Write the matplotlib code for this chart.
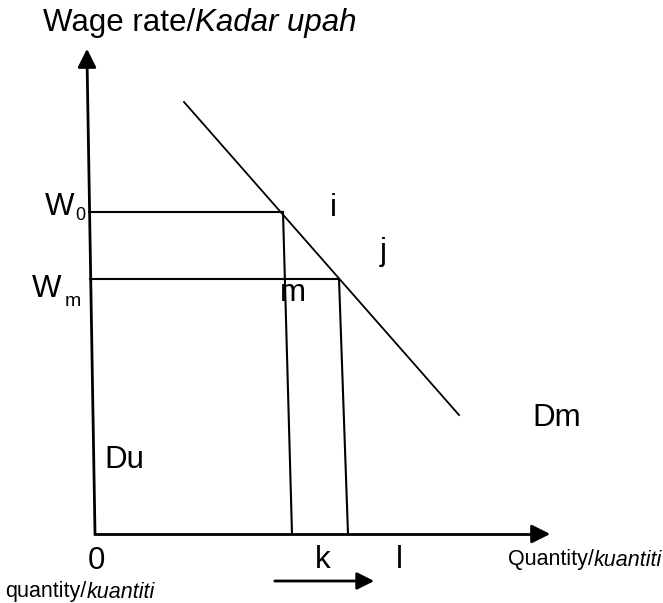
import matplotlib.pyplot as plt

plt.rcParams['font.family'] = ['Liberation Sans', 'DejaVu Sans']

# diagram units: quantity along x, wage along y (origin at 0,0)
y_axis_top = (-0.8, 48.8)
x_axis_end = (45.8, 0.0)

# demand curve Dm (two end points)
dm_q = [8.9, 36.4]
dm_w = [43.2, 11.9]

# wage levels
w_levels = {'W0': 32.2, 'Wm': 25.5}
# quantity at each wage (top of the drop line, bottom on the axis)
q_top = [18.8, 24.4]
q_bottom = [19.7, 25.3]
w_start_q = [-0.6, -0.5]

# shift arrow under the axis
shift_q = [17.7, 28.2]
shift_w = -4.7

fig = plt.figure(figsize=(6.63, 6.03), dpi=100)
ax = fig.add_axes([0, 0, 1, 1])
ax.set_xlim(-9.5, 56.8)
ax.set_ylim(-6.9, 53.4)
ax.axis('off')

# axes with arrows
ax.plot([0, y_axis_top[0]], [0, y_axis_top[1] - 1.2], color='black', lw=2)
ax.annotate('', xy=y_axis_top, xytext=(y_axis_top[0], y_axis_top[1] - 2),
            arrowprops=dict(arrowstyle='-|>', color='black', lw=2, mutation_scale=28))
ax.plot([0, x_axis_end[0] - 1.2], [0, 0], color='black', lw=2)
ax.annotate('', xy=x_axis_end, xytext=(x_axis_end[0] - 2, 0),
            arrowprops=dict(arrowstyle='-|>', color='black', lw=2, mutation_scale=28))

# demand line
ax.plot(dm_q, dm_w, color='black', lw=1.3)

# wage lines and drop lines
for i, w in enumerate(w_levels.values()):
    ax.plot([w_start_q[i], q_top[i]], [w, w], color='black', lw=1.5)
    ax.plot([q_top[i], q_bottom[i]], [w, 0], color='black', lw=1.5)

# shift arrow
ax.annotate('', xy=(shift_q[1], shift_w), xytext=(shift_q[0], shift_w),
            arrowprops=dict(arrowstyle='-|>', color='black', lw=2, mutation_scale=26))

# labels
fs = 22.5
t = ax.text(-5.2, 51.1, 'Wage rate/', fontsize=fs, va='center', ha='left')
ax.annotate('Kadar upah', xy=(1, 0.5), xycoords=t, fontsize=fs, va='center', ha='left',
            style='italic')

ax.text(-3.5, 32.7, 'W', fontsize=fs, va='center', ha='center')
ax.text(-1.5, 31.9, '0', fontsize=13, va='center', ha='center')
ax.text(-4.8, 24.5, 'W', fontsize=fs, va='center', ha='center')
ax.text(-2.2, 23.2, 'm', fontsize=14, va='center', ha='center')

ax.text(23.8, 32.6, 'i', fontsize=fs, va='center', ha='center')
ax.text(28.8, 28.2, 'j', fontsize=fs, va='center', ha='center')
ax.text(19.8, 24.1, 'm', fontsize=fs, va='center', ha='center')
ax.text(46.2, 11.6, 'Dm', fontsize=fs, va='center', ha='center')
ax.text(0.9, 7.4, 'Du', fontsize=fs, va='center', ha='left')

ax.text(0.1, -2.7, '0', fontsize=fs, va='center', ha='center')
ax.text(22.8, -2.6, 'k', fontsize=fs, va='center', ha='center')
ax.text(30.4, -2.6, 'l', fontsize=fs, va='center', ha='center')

fs2 = 15.5
t = ax.text(56.7, -2.6, 'kuantiti', fontsize=fs2, va='center', ha='right', style='italic')
ax.annotate('Quantity/', xy=(0, 0.5), xycoords=t, fontsize=fs2, va='center', ha='right')
t = ax.text(-9.0, -5.8, 'quantity/', fontsize=fs2, va='center', ha='left')
ax.annotate('kuantiti', xy=(1, 0.5), xycoords=t, fontsize=fs2, va='center', ha='left',
            style='italic')

plt.savefig('out.png', dpi=100)
